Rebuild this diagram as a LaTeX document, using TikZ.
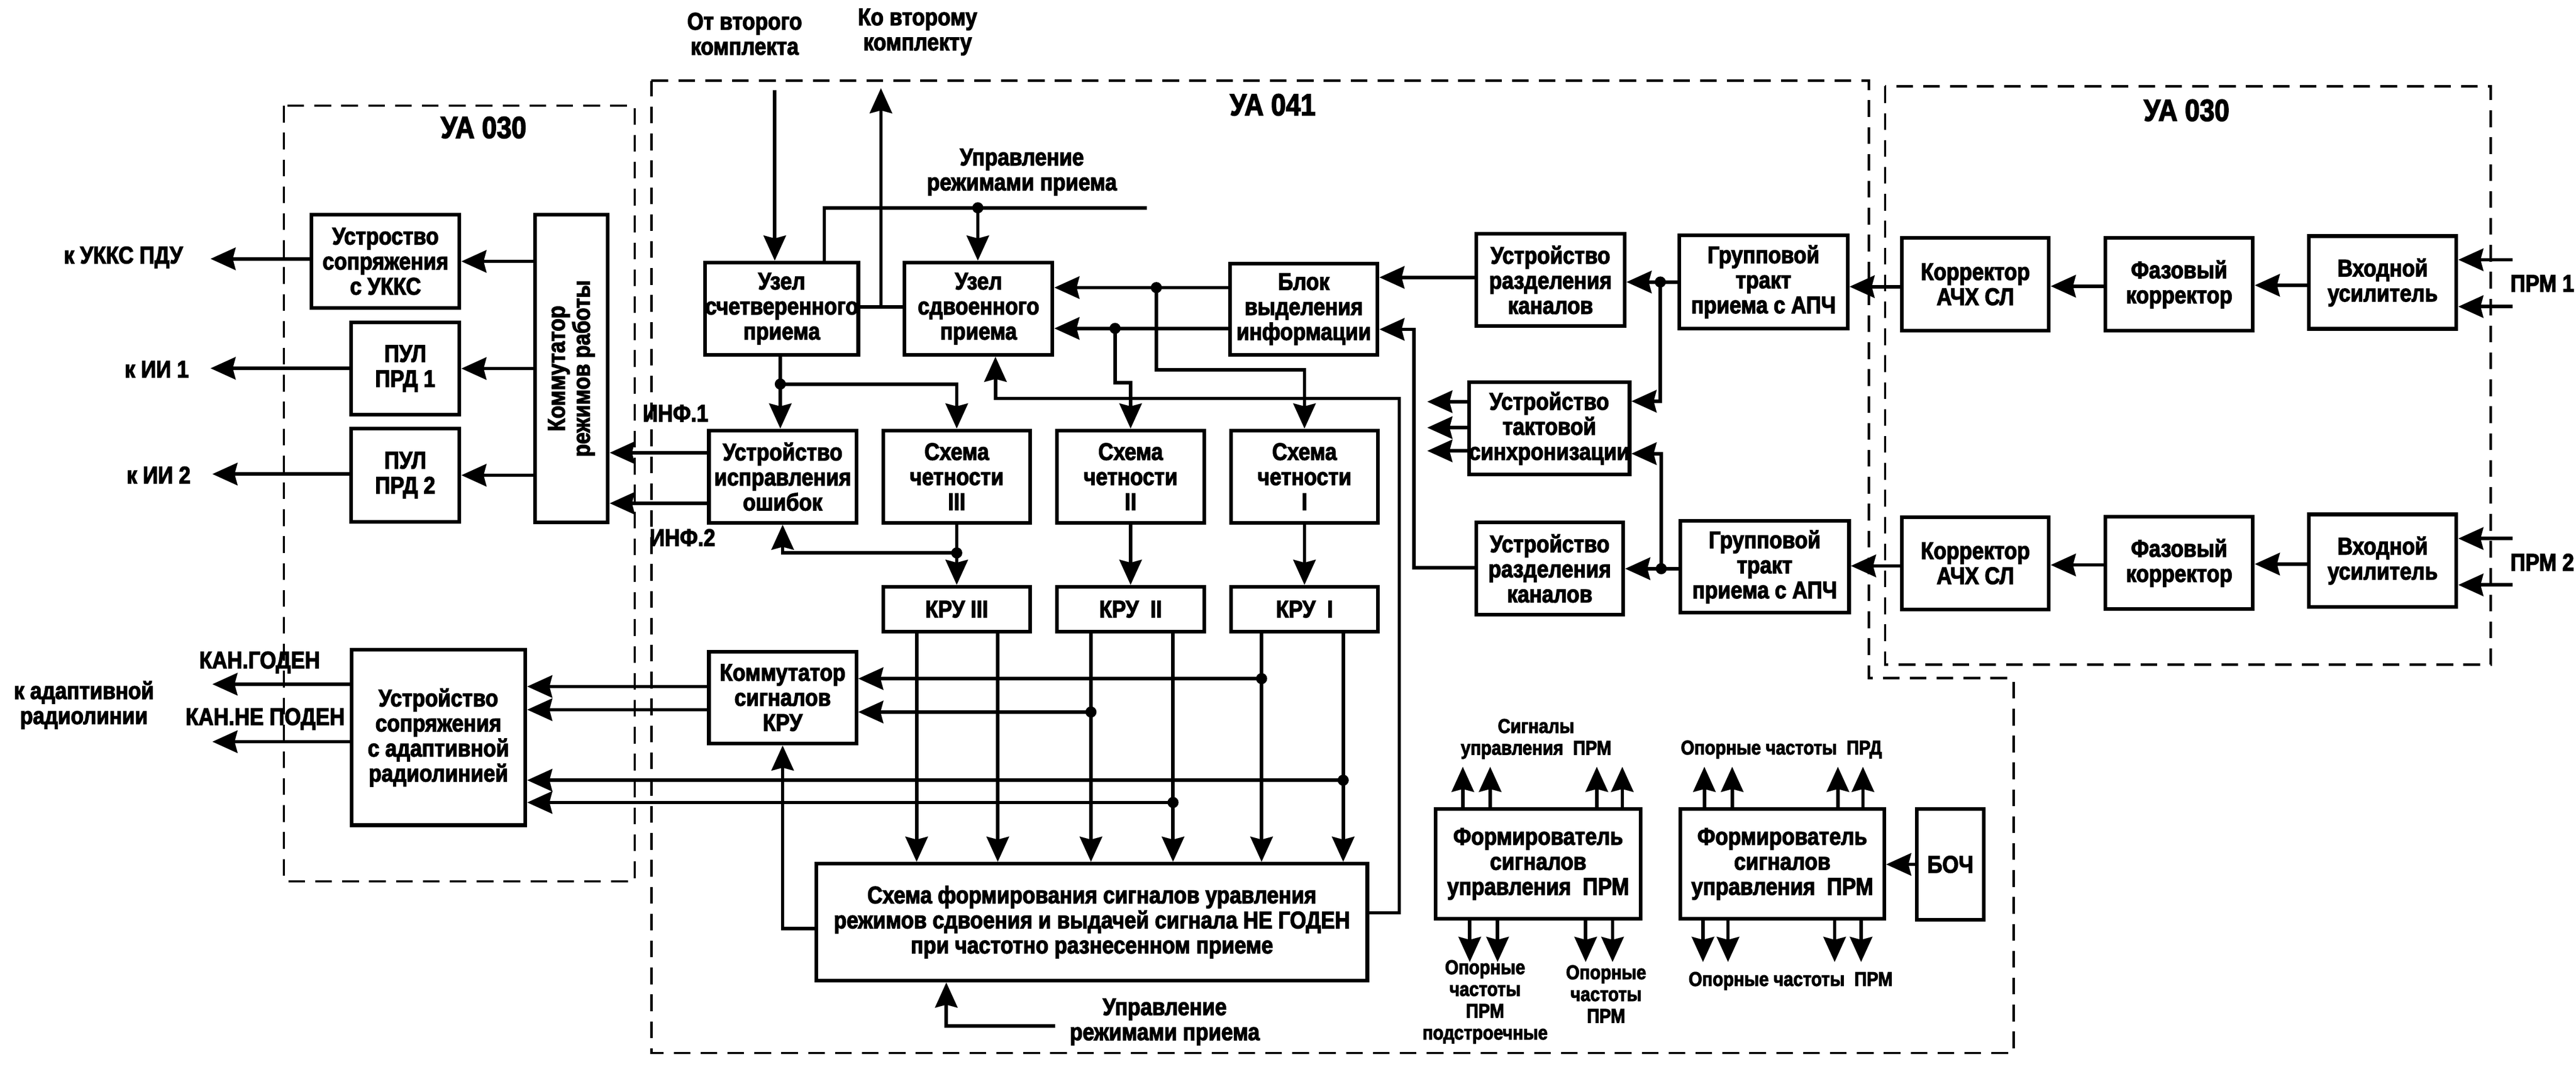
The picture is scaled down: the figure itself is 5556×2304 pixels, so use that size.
\documentclass[tikz,border=0pt]{standalone}
\usepackage{fontspec}
\newfontfamily\dfont{Liberation Sans Bold}[FakeStretch=0.87,FakeBold=3]
\usetikzlibrary{arrows.meta,calc}
\tikzset{
  every node/.style={font=\dfont\fontsize{52pt}{54pt}\selectfont, inner sep=0pt, align=center},
  box/.style={draw, line width=8pt},
  ln/.style={line width=7.5pt},
  arr/.style={ln, -{Stealth[length=54pt,width=48pt,inset=6pt]}},
  frame/.style={line width=5pt, dash pattern=on 36pt off 22pt},
  dot/.style={circle, fill, inner sep=0pt, minimum size=24pt},
  big/.style={font=\dfont\fontsize{66pt}{70pt}\selectfont},
  small/.style={font=\dfont\fontsize{43pt}{47pt}\selectfont},
}
\newcommand\mkbox[6]{\node[box,minimum width={(#4-#2)*1pt},minimum height={(#5-#3)*1pt}] (#1) at ({(#2+#4)/2},{(#3+#5)/2}) {#6};}
\begin{document}
\begin{tikzpicture}[x=1pt,y=-1pt]
\useasboundingbox (0,0) rectangle (5556,2304);
% frames
\draw[frame] (612,228) rectangle (1369,1900);
\draw[frame] (1405,174) -- (4031,174) -- (4031,1462) -- (4343,1462) -- (4343,2270) -- (1405,2270) -- cycle;
\draw[frame] (4066,186) rectangle (5372,1433);
\node[big] (t1) at (1043,275) {УА 030};
\node[big] (t2) at (2745,226) {УА 041};
\node[big] (t3) at (4716,238) {УА 030};
% left block
\mkbox{ukks}{672}{463}{991}{664}{Устроство\\сопряжения\\с УККС}
\mkbox{pul1}{757}{695}{991}{894}{ПУЛ\\ПРД 1}
\mkbox{pul2}{757}{924}{991}{1125}{ПУЛ\\ПРД 2}
\mkbox{komm}{1154}{463}{1311}{1126}{}
\node[rotate=90] (kommt) at (komm.center) {Коммутатор\\режимов работы};
\mkbox{adapt}{758}{1401}{1133}{1779}{Устройство\\сопряжения\\с адаптивной\\радиолинией}
\coordinate (e1) at (454,558);
\coordinate (e2) at (454,794);
\coordinate (e3) at (458,1022);
\coordinate (e4) at (458,1475);
\coordinate (e5) at (458,1599);
\draw[arr] (ukks.west |- e1) -- (e1);
\draw[arr] (pul1.west |- e2) -- (e2);
\draw[arr] (pul2.west |- e3) -- (e3);
\draw[arr] (adapt.west |- e4) -- (e4);
\draw[arr] (adapt.west |- e5) -- (e5);
\node (l1) at (266,555) {к УККС ПДУ};
\node (l2) at (338,796) {к ИИ 1};
\node (l3) at (342,1024) {к ИИ 2};
\node (l4) at (560,1428) {КАН.ГОДЕН};
\node (l5) at (572,1550) {КАН.НЕ ПОДЕН};
\node (l6) at (181,1520) {к адаптивной\\радиолинии};
\draw[arr] (komm.west |- ukks.east) -- (ukks.east);
\draw[arr] (komm.west |- pul1.east) -- (pul1.east);
\draw[arr] (komm.west |- pul2.east) -- (pul2.east);
% UA041 boxes
\mkbox{uzel4}{1527}{566}{1845}{765}{Узел\\счетверенного\\приема}
\mkbox{uzel2}{1951}{566}{2270}{765}{Узел\\сдвоенного\\приема}
\mkbox{blok}{2653}{568}{2971}{765}{Блок\\выделения\\информации}
\mkbox{razd1}{3184}{504}{3504}{703}{Устройство\\разделения\\каналов}
\mkbox{grp1}{3622}{507}{3985}{708}{Групповой\\тракт\\приема с АПЧ}
\mkbox{takt}{3182}{824}{3501}{1023}{Устройство\\тактовой\\синхронизации}
\mkbox{razd2}{3184}{1126}{3501}{1325}{Устройство\\разделения\\каналов}
\mkbox{grp2}{3624}{1123}{3988}{1321}{Групповой\\тракт\\приема с АПЧ}
\mkbox{isp}{1529}{928}{1847}{1127}{Устройство\\исправления\\ошибок}
\mkbox{ch3}{1905}{928}{2222}{1127}{Схема\\четности\\III}
\mkbox{ch2}{2280}{928}{2597}{1127}{Схема\\четности\\II}
\mkbox{ch1}{2655}{928}{2972}{1127}{Схема\\четности\\I}
\mkbox{kru3}{1905}{1265}{2222}{1362}{КРУ III}
\mkbox{kru2}{2280}{1265}{2597}{1362}{КРУ~~II}
\mkbox{kru1}{2655}{1265}{2972}{1362}{КРУ~~I}
\mkbox{kommkru}{1529}{1405}{1847}{1603}{Коммутатор\\сигналов\\КРУ}
\mkbox{sfs}{1761}{1862}{2949}{2114}{Схема формирования сигналов уравления\\режимов сдвоения и выдачей сигнала НЕ ГОДЕН\\при частотно разнесенном приеме}
\mkbox{form1}{3096}{1744}{3539}{1981}{Формирователь\\сигналов\\управления~~ПРМ}
\mkbox{form2}{3624}{1744}{4064}{1981}{Формирователь\\сигналов\\управления~~ПРМ}
\mkbox{boch}{4134}{1744}{4279}{1983}{БОЧ}
% right UA030
\mkbox{kor1}{4102}{513}{4419}{713}{Корректор\\АЧХ СЛ}
\mkbox{faz1}{4541}{513}{4859}{713}{Фазовый\\корректор}
\mkbox{vh1}{4980}{509}{5298}{709}{Входной\\усилитель}
\mkbox{kor2}{4102}{1115}{4419}{1314}{Корректор\\АЧХ СЛ}
\mkbox{faz2}{4541}{1114}{4859}{1313}{Фазовый\\корректор}
\mkbox{vh2}{4980}{1109}{5298}{1308}{Входной\\усилитель}
\draw[arr] (vh1.west |- 0,615) -- (faz1.east |- 0,615);
\draw[arr] (faz1.west |- 0,617) -- (kor1.east |- 0,617);
\draw[arr] (kor1.west |- 0,618) -- (grp1.east |- 0,618);
\draw[arr] (vh2.west |- 0,1216) -- (faz2.east |- 0,1216);
\draw[arr] (faz2.west |- 0,1218) -- (kor2.east |- 0,1218);
\draw[arr] (kor2.west |- 0,1220) -- (grp2.east |- 0,1220);
\coordinate (p1a) at (5419,560);
\coordinate (p1b) at (5419,661);
\coordinate (p2a) at (5419,1161);
\coordinate (p2b) at (5419,1261);
\draw[arr] (p1a) -- (vh1.east |- p1a);
\draw[arr] (p1b) -- (vh1.east |- p1b);
\draw[arr] (p2a) -- (vh2.east |- p2a);
\draw[arr] (p2b) -- (vh2.east |- p2b);
\node (prm1) at (5483,611) {ПРМ 1};
\node (prm2) at (5483,1212) {ПРМ 2};
% group tract -> separation / sync
\coordinate (j1) at (3581,608);
\coordinate (j2) at (3583,1226);
\draw[ln] (grp1.west |- j1) -- (j1);
\draw[arr] (j1) -- (razd1.east |- j1);
\draw[arr] (j1) |- (takt.east |- 0,865);
\draw[ln] (grp2.west |- j2) -- (j2);
\draw[arr] (j2) -- (razd2.east |- j2);
\draw[arr] (j2) |- (takt.east |- 0,978);
\node[dot] at (j1) {};
\node[dot] at (j2) {};
\foreach \yy in {866,922,972} \draw[arr] (takt.west |- 0,\yy) -- ++(-86,0);
% separation -> blok
\draw[arr] (razd1.west |- 0,598) -- (blok.east |- 0,598);
\coordinate (k1) at (3050,710);
\draw[arr] (razd2.west |- 0,1224) -| (k1) -- (blok.east |- k1);
% blok -> uzel2
\coordinate (d1) at (2494,620);
\coordinate (d2) at (2405,708);
\draw[arr] (blok.west |- d1) -- (uzel2.east |- d1);
\draw[arr] (blok.west |- d2) -- (uzel2.east |- d2);
\draw[arr] (d1) |- (ch1.north |- 0,797) -- (ch1.north);
\draw[arr] (d2) |- (ch2.north |- 0,825) -- (ch2.north);
\node[dot] at (d1) {};
\node[dot] at (d2) {};
% top inputs
\coordinate (ot) at (1671,195);
\draw[arr] (ot) -- (uzel4.north -| ot);
\node (lot) at (1606,73) {От второго\\комплекта};
\draw[ln] (uzel4.east |- 0,662) -- (uzel2.west |- 0,662);
\coordinate (kj) at (1900,662);
\coordinate (ko) at (1900,190);
\draw[arr] (kj) -- (ko);
\node (lko) at (1979,69) {Ко второму\\комплекту};
\coordinate (u1) at (2474,448);
\coordinate (u2) at (2109,448);
\coordinate (u0) at (1778,448);
\draw[ln] (u1) -- (u0) -- (uzel4.north -| u0);
\draw[arr] (u2) -- (uzel2.north -| u2);
\node[dot] at (u2) {};
\node (lupr) at (2204,371) {Управление\\режимами приема};
% uzel4 -> isp, ch3
\coordinate (d3) at (1683,828);
\draw[ln] (uzel4.south -| d3) -- (d3);
\draw[arr] (d3) -- (isp.north -| d3);
\draw[arr] (d3) -| (ch3.north);
\node[dot] at (d3) {};
% ch -> kru
\coordinate (d4) at (ch3.south |- 0,1192);
\draw[ln] (ch3.south) -- (d4);
\draw[arr] (d4) -- (kru3.north);
\draw[arr] (d4) -| (isp.south);
\node[dot] at (d4) {};
\draw[arr] (ch2.south) -- (kru2.north);
\draw[arr] (ch1.south) -- (kru1.north);
% feedback sfs -> uzel2
\coordinate (f1) at (3018,859);
\coordinate (f2) at (2147,859);
\draw[arr] (sfs.east |- 0,1968) -| (f1) -- (f2) -- (uzel2.south -| f2);
% isp -> komm
\draw[arr] (isp.west |- 0,976) -- (komm.east |- 0,976);
\draw[arr] (isp.west |- 0,1085) -- (komm.east |- 0,1085);
\node (inf1) at (1457,891) {ИНФ.1};
\node (inf2) at (1472,1159) {ИНФ.2};
% kru outputs
\foreach \x/\k in {1977/kru3,2152/kru3,2353/kru2,2530/kru2,2721/kru1,2897/kru1}
  \draw[arr] (\k.south -| \x,0) -- (sfs.north -| \x,0);
\coordinate (d5) at (2721,1463);
\coordinate (d6) at (2353,1535);
\coordinate (d7) at (2897,1682);
\coordinate (d8) at (2530,1730);
\draw[arr] (d5) -- (kommkru.east |- d5);
\draw[arr] (d6) -- (kommkru.east |- d6);
\draw[arr] (d7) -- (adapt.east |- d7);
\draw[arr] (d8) -- (adapt.east |- d8);
\foreach \d in {d5,d6,d7,d8} \node[dot] at (\d) {};
\draw[arr] (kommkru.west |- 0,1480) -- (adapt.east |- 0,1480);
\draw[arr] (kommkru.west |- 0,1530) -- (adapt.east |- 0,1530);
\draw[arr] (sfs.west |- 0,2002) -| (kommkru.south);
\coordinate (u3) at (2276,2212);
\coordinate (u4) at (2041,2212);
\draw[arr] (u3) -- (u4) -- (sfs.south -| u4);
\node (lupr2) at (2512,2203) {Управление\\режимами приема};
% formers
\foreach \x in {3155,3214,3444,3499} \draw[arr] (form1.north -| \x,0) -- ++(0,-87);
\foreach \x in {3170,3230,3420,3478} \draw[arr] (form1.south -| \x,0) -- ++(0,89);
\foreach \x in {3676,3736,3964,4018} \draw[arr] (form2.north -| \x,0) -- ++(0,-87);
\foreach \x in {3673,3727,3957,4014} \draw[arr] (form2.south -| \x,0) -- ++(0,89);
\draw[arr] (boch.west) -- (form2.east |- boch.west);
\node[small] (s1) at (3313,1593) {Сигналы\\управления~~ПРМ};
\node[small] (s2) at (3842,1616) {Опорные частоты~~ПРД};
\node[small] (s3) at (3203,2160) {Опорные\\частоты\\ПРМ\\подстроечные};
\node[small] (s4) at (3464,2143) {Опорные\\частоты\\ПРМ};
\node[small] (s5) at (3862,2115) {Опорные частоты~~ПРМ};
\end{tikzpicture}
\end{document}
